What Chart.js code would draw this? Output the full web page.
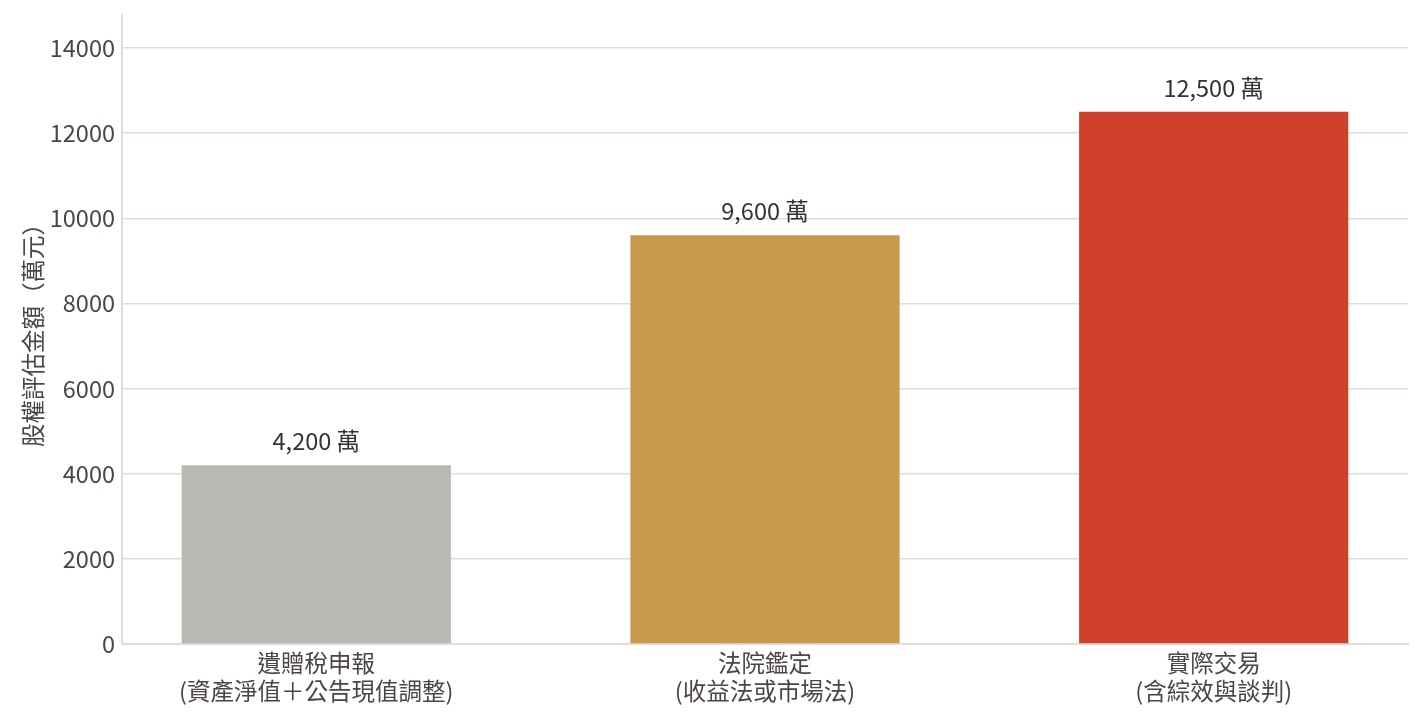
<!DOCTYPE html>
<html>
<head>
<meta charset="utf-8">
<script src="https://cdn.jsdelivr.net/npm/chart.js@4"></script>
<style>
  html, body { margin: 0; padding: 0; background: #fff; }
  #wrap { width: 1423px; height: 720px; }
</style>
</head>
<body>
<div id="wrap"><canvas id="grafico"></canvas></div>
<script>
// categorias (duas linhas cada)
const categorias = [
  ["遺贈稅申報", "(資產淨值＋公告現值調整)"],
  ["法院鑑定", "(收益法或市場法)"],
  ["實際交易", "(含綜效與談判)"],
];
const valores = [4200, 9600, 12500];
const rotulos = ["4,200 萬", "9,600 萬", "12,500 萬"];
const cores = ["#b7b9b2", "#c79a4c", "#d0412b"];
const ticksY = [0, 2000, 4000, 6000, 8000, 10000, 12000, 14000];

const fonte = '"Noto Sans CJK TC", "Noto Sans", sans-serif';
const tam = 23.5;

// rotulos em cima das barras
const rotuloPlugin = {
  id: "rotuloBarras",
  afterDatasetsDraw(chart) {
    const ctx = chart.ctx;
    const meta = chart.getDatasetMeta(0);
    ctx.save();
    ctx.font = tam + "px " + fonte;
    ctx.fillStyle = "#333333";
    ctx.textAlign = "center";
    ctx.textBaseline = "bottom";
    meta.data.forEach((bar, i) => {
      ctx.fillText(rotulos[i], bar.x, bar.y - 12);
    });
    ctx.restore();
  },
};

new Chart(document.getElementById("grafico"), {
  type: "bar",
  data: {
    datasets: [
      {
        data: valores.map((v, i) => ({ x: i, y: v })),
        backgroundColor: cores,
        borderWidth: 0,
        categoryPercentage: 1,
        barPercentage: 0.6,
      },
    ],
  },
  plugins: [rotuloPlugin],
  options: {
    responsive: true,
    maintainAspectRatio: false,
    animation: false,
    layout: {
      padding: { left: 19, right: 15, top: 15, bottom: 0 },
    },
    plugins: {
      legend: { display: false },
      tooltip: { enabled: false },
    },
    scales: {
      x: {
        type: "linear",
        offset: false,
        min: -0.433,
        max: 2.433,
        afterBuildTicks: (axis) => {
          axis.ticks = [0, 1, 2].map((v) => ({ value: v }));
        },
        afterFit: (scale) => {
          scale.height = 76;
          scale.paddingLeft = 0;
          scale.paddingRight = 0;
        },
        grid: { display: false, drawTicks: false },
        border: { display: true, color: "#e0ddd9", width: 2 },
        ticks: {
          autoSkip: false,
          maxRotation: 0,
          padding: 5,
          color: "#4d4448",
          font: { family: fonte, size: tam, lineHeight: 1.2 },
          callback: (v) => categorias[v],
        },
      },
      y: {
        min: 0,
        max: 14775,
        afterBuildTicks: (axis) => {
          axis.ticks = ticksY.map((v) => ({ value: v }));
        },
        afterFit: (scale) => {
          scale.width = 103;
          scale.paddingTop = 0;
          scale.paddingBottom = 0;
        },
        grid: { color: "#e0ddd9", lineWidth: 1.5, drawTicks: false },
        border: { display: true, color: "#e0ddd9", width: 2 },
        ticks: {
          padding: 7,
          color: "#4d4448",
          font: { family: fonte, size: tam },
          callback: (v) => String(v),
        },
        title: {
          display: true,
          text: "股權評估金額（萬元）",
          color: "#4d4448",
          font: { family: fonte, size: tam },
          padding: { top: 0, bottom: 0 },
        },
      },
    },
  },
});
</script>
</body>
</html>
